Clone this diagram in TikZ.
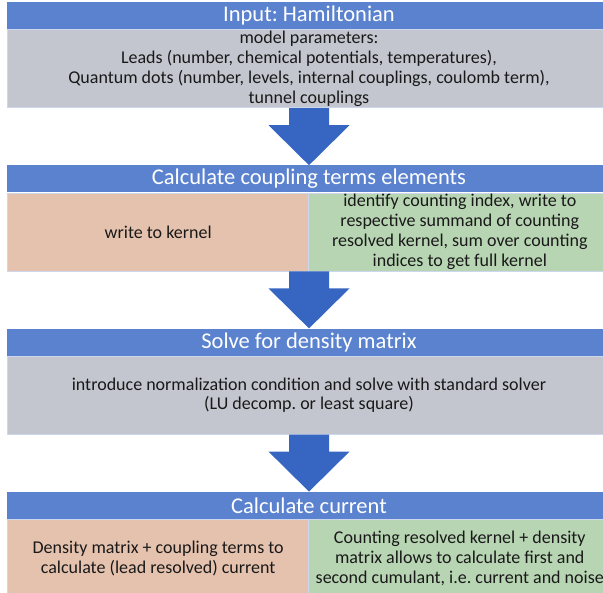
\documentclass[tikz,border=0pt]{standalone}
\usepackage{fontspec}
\setmainfont{Carlito}
\usetikzlibrary{positioning,calc}
\definecolor{xanh}{HTML}{5A82CE}
\definecolor{muiten}{HTML}{3666C2}
\definecolor{xam}{HTML}{C4C6CF}
\definecolor{cam}{HTML}{E5C2AE}
\definecolor{la}{HTML}{B8D5B3}
\definecolor{vien}{HTML}{CCD6EC}
\frenchspacing
\begin{document}
\begin{tikzpicture}[x=1pt, y=1pt, line join=round, font=\fontsize{18}{19.8}\selectfont,
	tieude/.style={fill=xanh, text=white, font=\fontsize{22.5}{26}\selectfont, minimum width=\w pt, minimum height=\t pt, inner sep=0pt, anchor=north},
	than/.style={draw=vien, line width=.8pt, text=black!90, align=center, inner sep=0pt, minimum height=\h pt},
	nua/.style={than, minimum width=\w pt/2}]
	\def\w{604} % Chiều rộng khung
	\def\t{27} % Chiều cao tiêu đề
	\def\h{78} % Chiều cao thân
	\def\k{57} % Khoảng cách giữa hai khung
	\useasboundingbox (0,0) rectangle (603,-593);
	\node[tieude] (T1) at (309,-2) {Input: Hamiltonian};
	\node[than, fill=xam, minimum width=\w pt, below=0pt of T1] (B1) {model parameters:\\Leads (number, chemical potentials, temperatures),\\Quantum dots (number, levels, internal couplings, coulomb term),\\tunnel couplings};
	\node[tieude] (T2) at ($(B1.south)-(0,\k)$) {Calculate coupling terms elements};
	\node[nua, fill=cam, anchor=north west] (L2) at (T2.south west) {write to kernel};
	\node[nua, fill=la, anchor=north east] (R2) at (T2.south east) {identify counting index, write to\\respective summand of counting\\resolved kernel, sum over counting\\indices to get full kernel};
	\node[tieude] (T3) at ($(L2.south -| T2.south)-(0,\k)$) {Solve for density matrix};
	\node[than, fill=xam, minimum width=\w pt, below=0pt of T3] (B3) {introduce normalization condition and solve with standard solver\\(LU decomp. or least square)};
	\node[tieude] (T4) at ($(B3.south)-(0,\k)$) {Calculate current};
	\node[nua, fill=cam, anchor=north west] (L4) at (T4.south west) {Density matrix + coupling terms to\\calculate (lead resolved) current};
	\node[nua, fill=la, anchor=north east] (R4) at (T4.south east) {Counting resolved kernel + density\\matrix allows to calculate first and\\second cumulant, i.e. current and noise};
	\foreach \a/\b in {B1/T2, L2/T3, B3/T4}
		\fill[muiten] (\a.south -| \b.north) ++(-20,0) -- ++(0,-17) -- ++(-20.5,0) -- (\b.north) -- ++(40.5,40) -- ++(-20.5,0) -- ++(0,17) -- cycle;
\end{tikzpicture}
\end{document}
